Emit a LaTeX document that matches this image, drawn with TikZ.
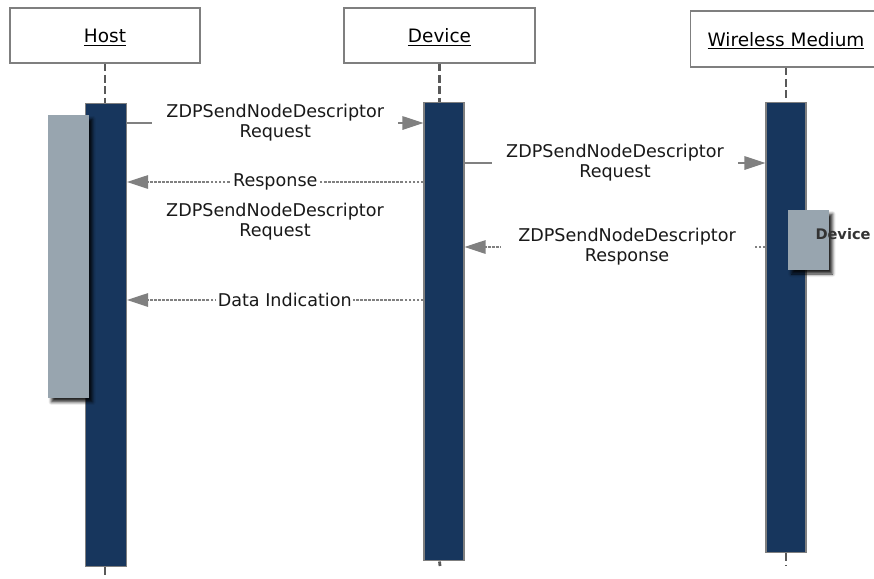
\documentclass[tikz,border=0pt]{standalone}
\usepackage{fontspec}
\setmainfont{DejaVu Sans}
\usetikzlibrary{arrows.meta,shadows.blur}

\definecolor{barblue}{HTML}{17365D}
\definecolor{actgray}{HTML}{98A5AF}
\definecolor{edgegray}{HTML}{7F7F7F}
\definecolor{lifegray}{HTML}{595959}
\definecolor{msggray}{HTML}{808080}

\tikzset{
  hdr/.style={draw=edgegray,fill=white,line width=0.6pt,minimum height=1.1cm,
    text depth=0pt,font=\fontsize{10.5}{12}\selectfont},
  bar/.style={draw=edgegray,fill=barblue,line width=0.6pt,minimum width=0.8cm,inner sep=0pt},
  actbox/.style={fill=actgray,minimum width=0.82cm,inner sep=0pt,
    blur shadow={shadow xshift=0.07cm,shadow yshift=-0.08cm,shadow blur radius=0.06cm,
      shadow opacity=85}},
  life/.style={draw=lifegray,line width=1.6pt,dash pattern=on 4.5pt off 2pt},
  msg/.style={draw=msggray,line width=0.7pt,-{Triangle[length=0.42cm,width=0.27cm]}},
  reply/.style={msg,dash pattern=on 1.6pt off 0.7pt},
  lbl/.style={fill=white,align=center,font=\fontsize{10}{11.4}\selectfont,
    inner ysep=1pt,text=black!90}
}

\begin{document}
\begin{tikzpicture}[x=0.02cm,y=-0.02cm,line cap=butt]
  \useasboundingbox (0,0) rectangle (874,578);
  % headers
  \node[hdr,minimum width=3.8cm] (host) at (105,35.5) {\underline{Host}};
  \node[hdr,minimum width=3.82cm] (dev) at (439.5,35.5) {\underline{Device}};
  \node[hdr,minimum width=3.84cm,minimum height=1.12cm] (wm) at (786,39) {\underline{Wireless Medium}};
  % lifeline ends
  \coordinate (hostend) at (105,578);
  \coordinate (devend) at (440,566);
  \coordinate (wmend) at (786,566);
  % activation bars
  \node[bar,minimum width=0.82cm,minimum height=9.28cm] (hostbar) at (106,335) {};
  \node[bar,minimum height=9.18cm] (devbar) at (444,331.5) {};
  \node[bar,minimum height=9.02cm] (wmbar) at (786,327.5) {};
  \draw[life] (host.south) -- (host.south |- hostbar.north);
  \draw[life] (host.south |- hostbar.south) -- (hostend);
  \draw[life] (dev.south) -- (dev.south |- devbar.north);
  \draw[life] (dev.south |- devbar.south) -- (devend);
  \draw[life] (wm.south) -- (wm.south |- wmbar.north);
  \draw[life] (wm.south |- wmbar.south) -- (wmend);
  % nested boxes
  \node[actbox,minimum height=5.66cm] (hostact) at (68.5,256.5) {};
  \node[actbox,minimum height=1.2cm] (wmact) at (808.5,240) {};
  \node[font=\bfseries\fontsize{8.3}{10}\selectfont,text=black!80] (wmtag) at (843,234) {Device};
  % message levels
  \coordinate (y1) at (0,123);
  \coordinate (y2) at (0,182);
  \coordinate (y3) at (0,163);
  \coordinate (y4) at (0,247);
  \coordinate (y5) at (0,300);
  \draw[msg] (hostbar.east |- y1) -- node[lbl,inner xsep=8pt] {ZDPSendNodeDescriptor\\Request} (devbar.west |- y1);
  \draw[reply] (devbar.west |- y2) -- node[lbl,inner xsep=1pt] {Response} (hostbar.east |- y2);
  \node[lbl] (note) at (275,222) {ZDPSendNodeDescriptor\\Request};
  \draw[msg] (devbar.east |- y3) -- node[lbl,inner xsep=8pt] {ZDPSendNodeDescriptor\\Request} (wmbar.west |- y3);
  \draw[reply] (wmbar.west |- y4) -- node[lbl,pos=0.46,inner xsep=10pt] {ZDPSendNodeDescriptor\\Response} (devbar.east |- y4);
  \draw[reply] (devbar.west |- y5) -- node[lbl,pos=0.468,inner xsep=1pt] {Data Indication} (hostbar.east |- y5);
\end{tikzpicture}
\end{document}
